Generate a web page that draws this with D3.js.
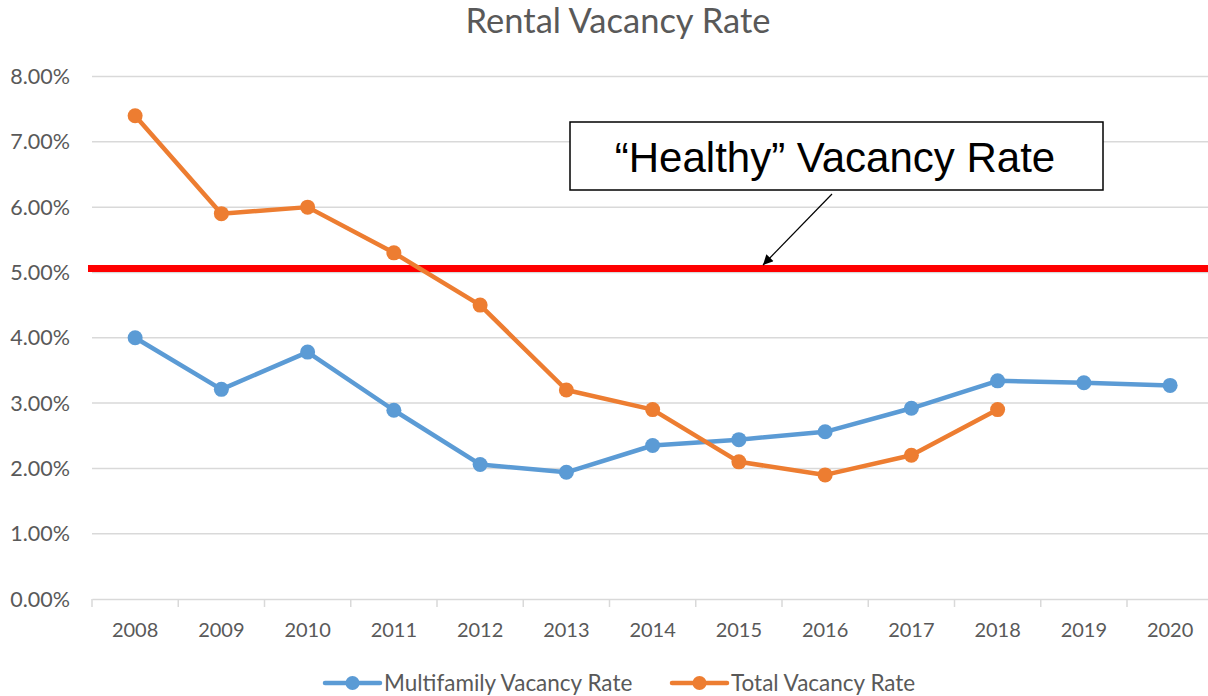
<!DOCTYPE html>
<html>
<head>
<meta charset="utf-8">
<script src="https://cdn.jsdelivr.net/npm/d3@7"></script>
<style>
  body { margin: 0; background: #fff; }
</style>
</head>
<body>
<div id="chart-area"></div>
<script>
// chart data
var years = ["2008", "2009", "2010", "2011", "2012", "2013", "2014", "2015", "2016", "2017", "2018", "2019", "2020"];
var multifamily = [0.040, 0.0321, 0.0378, 0.0289, 0.0206, 0.0194, 0.0235, 0.0244, 0.0256, 0.0292, 0.0334, 0.0331, 0.0327];
var total = [0.074, 0.059, 0.060, 0.053, 0.045, 0.032, 0.029, 0.021, 0.019, 0.022, 0.029];
var yTicks = [0, 0.01, 0.02, 0.03, 0.04, 0.05, 0.06, 0.07, 0.08];
var healthyRate = 0.0506;
var seriesNames = ["Multifamily Vacancy Rate", "Total Vacancy Rate"];
var seriesColors = ["#5b9bd5", "#ed7d31"];

var width = 1208, height = 696;
var labelFont = "Lato, 'Open Sans', sans-serif";

var svg = d3.select("#chart-area")
  .append("svg")
    .attr("width", width)
    .attr("height", height);

var x = d3.scaleBand()
  .domain(years)
  .range([92, 92 + 13 * 86.25]);

var y = d3.scaleLinear()
  .domain([0, 0.08])
  .range([599, 76.5]);

var fmt = d3.format(".2%");

// title
svg.append("text")
  .attr("x", 618)
  .attr("y", 33)
  .attr("text-anchor", "middle")
  .style("font-family", labelFont)
  .style("font-size", "34.5px")
  .attr("fill", "#595959")
  .text("Rental Vacancy Rate");

// gridlines
svg.append("g")
  .selectAll("line")
  .data(yTicks.slice(1))
  .enter()
  .append("line")
    .attr("x1", 92)
    .attr("x2", width)
    .attr("y1", d => y(d))
    .attr("y2", d => y(d))
    .attr("stroke", "#d9d9d9")
    .attr("stroke-width", 1.5);

// y axis labels
svg.append("g")
  .selectAll("text")
  .data(yTicks)
  .enter()
  .append("text")
    .attr("x", 70)
    .attr("y", d => y(d))
    .attr("dy", "0.35em")
    .attr("text-anchor", "end")
    .style("font-family", labelFont)
    .style("font-size", "21.5px")
    .attr("fill", "#595959")
    .text(d => fmt(d));

// x axis
var xAxis = d3.axisBottom(x).tickSize(0).tickSizeOuter(0);
var gx = svg.append("g")
  .attr("transform", "translate(0," + y(0) + ")")
  .call(xAxis);
gx.select(".domain").attr("stroke", "#d9d9d9").attr("stroke-width", 1.5);
gx.selectAll(".tick text")
  .attr("dy", 0)
  .attr("y", 38)
  .style("font-family", labelFont)
  .style("font-size", "20px")
  .attr("fill", "#595959");

// tick marks between categories
svg.append("g")
  .selectAll("line")
  .data(years)
  .enter()
  .append("line")
    .attr("x1", d => x(d))
    .attr("x2", d => x(d))
    .attr("y1", y(0))
    .attr("y2", y(0) + 8)
    .attr("stroke", "#d9d9d9")
    .attr("stroke-width", 1.5);

// healthy rate line
svg.append("line")
  .attr("x1", 88)
  .attr("x2", width)
  .attr("y1", y(healthyRate))
  .attr("y2", y(healthyRate))
  .attr("stroke", "#ff0000")
  .attr("stroke-width", 7);

var cx = d => x(d) + x.bandwidth() / 2;
var line = d3.line()
  .x(d => cx(d.year))
  .y(d => y(d.value));

function drawSeries(values, color) {
  var data = values.map((v, i) => ({ year: years[i], value: v }));
  svg.append("path")
    .datum(data)
    .attr("fill", "none")
    .attr("stroke", color)
    .attr("stroke-width", 4.5)
    .attr("stroke-linejoin", "round")
    .attr("d", line);
  svg.append("g")
    .selectAll("circle")
    .data(data)
    .enter()
    .append("circle")
      .attr("cx", d => cx(d.year))
      .attr("cy", d => y(d.value))
      .attr("r", 7.5)
      .attr("fill", color);
}

drawSeries(multifamily, seriesColors[0]);
drawSeries(total, seriesColors[1]);

// callout box
svg.append("defs").append("marker")
  .attr("id", "arrow")
  .attr("viewBox", "0 0 10 10")
  .attr("refX", 10)
  .attr("refY", 5)
  .attr("markerWidth", 14)
  .attr("markerHeight", 10)
  .attr("markerUnits", "userSpaceOnUse")
  .attr("orient", "auto")
  .append("path")
    .attr("d", "M0,0 L10,5 L0,10 Z")
    .attr("fill", "#000");

svg.append("rect")
  .attr("x", 570)
  .attr("y", 122)
  .attr("width", 533)
  .attr("height", 68)
  .attr("fill", "#fff")
  .attr("stroke", "#000")
  .attr("stroke-width", 1.5);

svg.append("text")
  .attr("x", 835)
  .attr("y", 172)
  .attr("text-anchor", "middle")
  .style("font-family", "'Liberation Sans', Arial, sans-serif")
  .style("font-size", "42px")
  .attr("fill", "#000")
  .text("\u201CHealthy\u201D Vacancy Rate");

svg.append("line")
  .attr("x1", 832)
  .attr("y1", 194)
  .attr("x2", 763)
  .attr("y2", 265)
  .attr("stroke", "#000")
  .attr("stroke-width", 1.2)
  .attr("marker-end", "url(#arrow)");

// legend
var legend = svg.append("g");
var legendX = [325, 672];
seriesNames.forEach(function(name, i) {
  var g = legend.append("g").attr("transform", "translate(" + legendX[i] + ",683)");
  g.append("line")
    .attr("x1", 0).attr("x2", 55)
    .attr("stroke", seriesColors[i])
    .attr("stroke-width", 4.5)
    .attr("stroke-linecap", "round");
  g.append("circle")
    .attr("cx", 27.5)
    .attr("r", 7)
    .attr("fill", seriesColors[i]);
  g.append("text")
    .attr("x", 59)
    .attr("dy", "0.35em")
    .style("font-family", labelFont)
    .style("font-size", "22.5px")
    .attr("fill", "#595959")
    .text(name);
});
</script>
</body>
</html>
